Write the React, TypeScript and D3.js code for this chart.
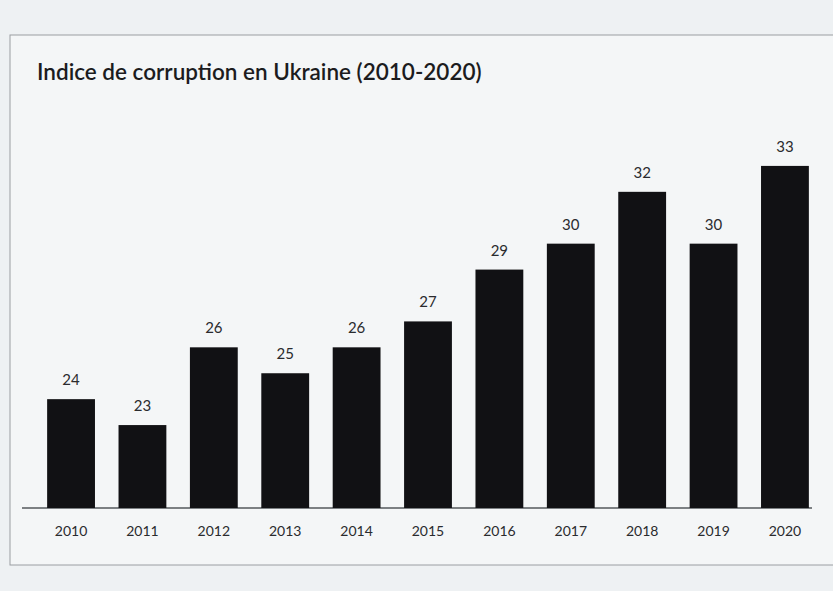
import React from "react";
import * as d3 from "d3";

const years = ["2010", "2011", "2012", "2013", "2014", "2015", "2016", "2017", "2018", "2019", "2020"];
const scores = [24, 23, 26, 25, 26, 27, 29, 30, 32, 30, 33];

const W = 833;
const H = 591;
const margin = { left: 35, right: 12, top: 140, bottom: 83 };

export default function App() {
  const x = d3
    .scaleBand()
    .domain(years)
    .range([margin.left, W - margin.right])
    .paddingInner(0.33)
    .paddingOuter(0.17);

  const y = d3
    .scaleLinear()
    .domain([19.8, 34])
    .range([H - margin.bottom, margin.top]);

  const base = y(19.8);
  const font = "Lato, 'Open Sans', sans-serif";

  return (
    <svg width={W} height={H} style={{ position: "absolute", left: 0, top: 0 }}>
      <rect x={0} y={0} width={W} height={H} fill="#eef1f3" />
      <rect x={10} y={35} width={W + 20} height={530} fill="#f4f6f7" stroke="#9a9ea2" strokeWidth={1} />
      <text x={37} y={80} fontFamily={font} fontSize={22.5} fontWeight={600} fill="#1c1c1e">
        Indice de corruption en Ukraine (2010-2020)
      </text>
      <line x1={22} x2={812} y1={base} y2={base} stroke="#55585c" strokeWidth={1.5} />
      {years.map((yr, i) => (
        <g key={yr}>
          <rect
            x={x(yr)!}
            y={y(scores[i])}
            width={x.bandwidth()}
            height={base - y(scores[i])}
            fill="#111114"
          />
          <text
            x={x(yr)! + x.bandwidth() / 2}
            y={y(scores[i]) - 14}
            textAnchor="middle"
            fontFamily={font}
            fontSize={15}
            fill="#2a2b2e"
          >
            {scores[i]}
          </text>
          <text
            x={x(yr)! + x.bandwidth() / 2}
            y={base + 28}
            textAnchor="middle"
            fontFamily={font}
            fontSize={14}
            fill="#2a2b2e"
          >
            {yr}
          </text>
        </g>
      ))}
    </svg>
  );
}
